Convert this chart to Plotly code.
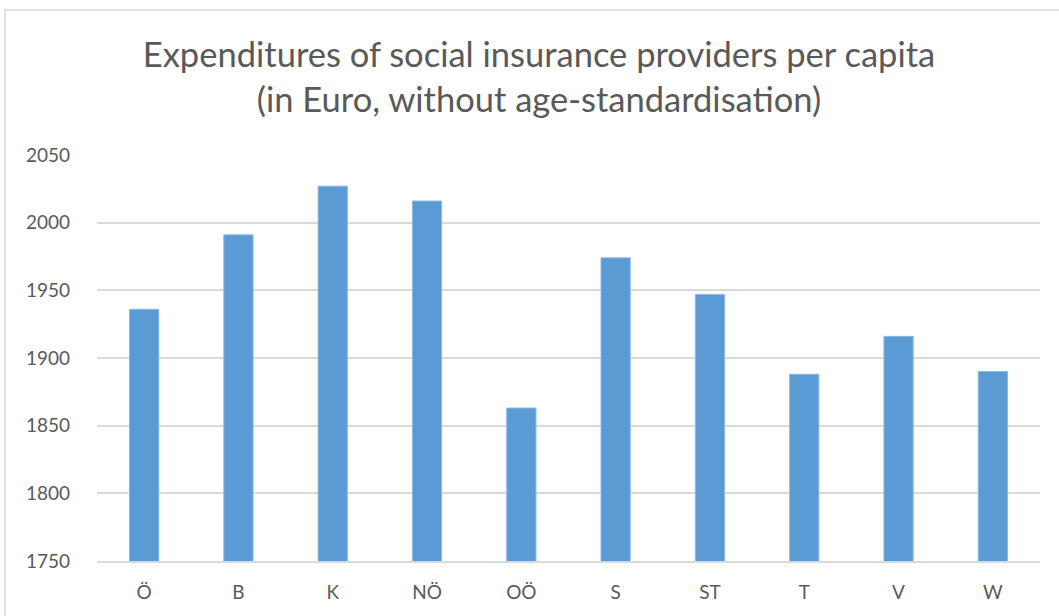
import plotly.graph_objects as go

categories = ["Ö", "B", "K", "NÖ", "OÖ", "S", "ST", "T", "V", "W"]
values = [1936, 1991, 2027, 2016, 1863, 1974, 1947, 1888, 1916, 1890]
y_ticks = [1750, 1800, 1850, 1900, 1950, 2000, 2050]

W, H = 1059, 616
L, R, T, B = 97, 19, 155, 55
pw, ph = W - L - R, H - T - B

def px_x(x):
    return (x - L) / pw

def px_y(y):
    return (H - B - y) / ph

fig = go.Figure(go.Bar(
    x=categories, y=values,
    marker=dict(color="#5B9BD5", line=dict(color="#8DB9E3", width=1)),
    width=0.31,
))

fig.update_layout(
    width=W, height=H,
    margin=dict(l=L, r=R, t=T, b=B),
    paper_bgcolor="white", plot_bgcolor="white",
    font=dict(family="Lato, Open Sans, sans-serif", color="#595959"),
    title=dict(
        text="Expenditures of social insurance providers per capita<br>(in Euro, without age-standardisation)",
        x=539 / W, xanchor="center", xref="container",
        y=1 - 67 / H, yanchor="middle", yref="container",
        font=dict(size=34.5, color="#595959", family="Lato, Open Sans, sans-serif"),
    ),
    showlegend=False,
    bargap=0.69,
    shapes=[dict(type="rect", xref="paper", yref="paper",
                 x0=px_x(5), x1=px_x(1075), y0=px_y(640), y1=px_y(10),
                 line=dict(color="#D9D9D9", width=1.5), layer="below")],
)
fig.update_xaxes(showgrid=False, showline=True, linecolor="#D9D9D9", linewidth=1.5,
                 tickfont=dict(size=19, color="#595959"), ticks="", ticklabelstandoff=13)
fig.update_yaxes(range=[1750, 2050], tickvals=y_ticks, showgrid=True, gridcolor="#D9D9D9",
                 gridwidth=1.5, zeroline=False, showline=False,
                 tickfont=dict(size=19, color="#595959"), ticks="", ticklabelstandoff=26)

fig.write_html("out.html", config={"displayModeBar": False},
               post_script="document.body.style.margin='0';")
